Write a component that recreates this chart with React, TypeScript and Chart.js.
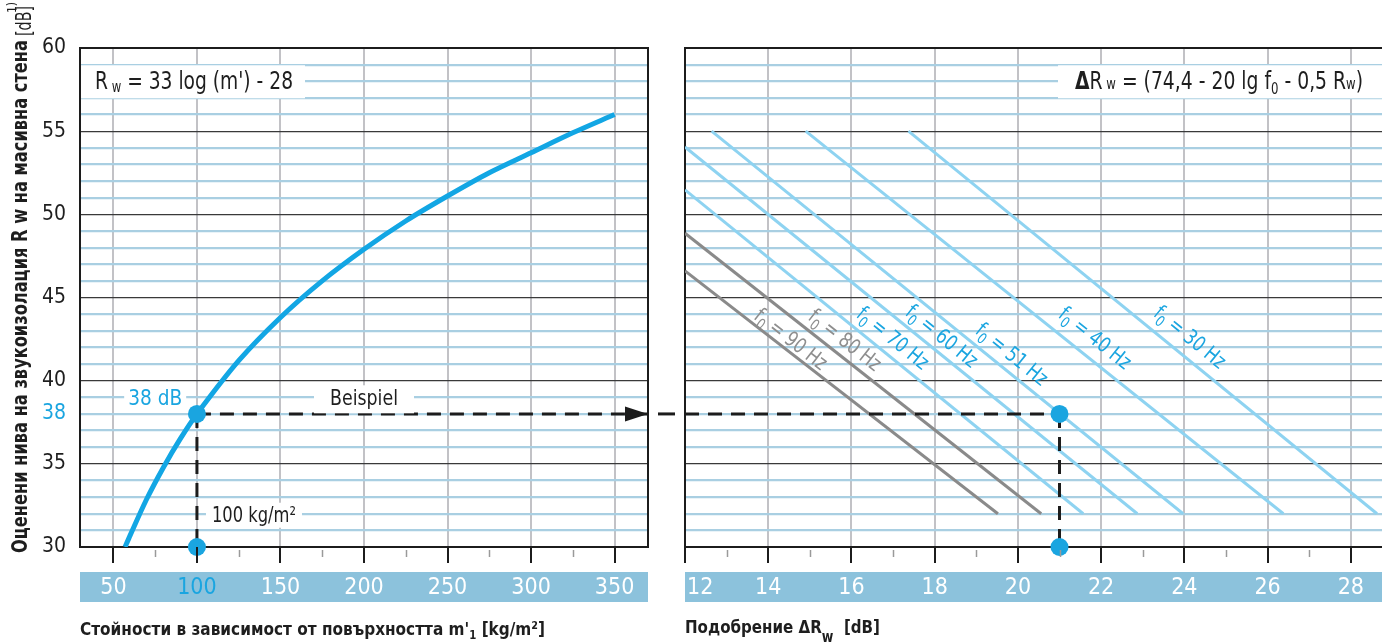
import { useEffect, useRef } from 'react';
import { Chart, registerables } from 'chart.js';

Chart.register(...registerables);

const FONT = "'Liberation Sans Narrow', 'Arial Narrow', 'DejaVu Sans Condensed', Roboto, sans-serif";

// ---------------- Data ----------------
// Left chart: Rw = 33 log(m') - 28
const massValues = [57, 60, 70, 80, 90, 100, 125, 150, 175, 200, 225, 250, 275, 300, 325, 350];
const rwValues = [30.0, 30.7, 32.9, 34.8, 36.5, 38.0, 41.2, 43.8, 46.0, 47.9, 49.6, 51.1, 52.5, 53.7, 54.9, 56.0];

// Tick labels
const massTickLabels = [50, 100, 150, 200, 250, 300, 350];
const deltaTickLabels = [12, 14, 16, 18, 20, 22, 24, 26, 28];
const rwTickLabels = [30, 35, 38, 40, 45, 50, 55, 60];

// Axis bounds
const massMin = 30;
const massMax = 370;
const deltaMin = 12;
const deltaMax = 28.75;
const rwMin = 30;
const rwMax = 60;

// Worked example
const exampleMass = 100;
const exampleRw = 38;
const exampleDelta = 21;

// Right chart: resonance frequency lines f0
const freqLabels = ['90', '80', '70', '60', '51', '40', '30'];
const freqStartDelta = [12, 12, 12, 12, 12.64, 14.9, 17.37];
const freqStartRw = [46.6, 48.86, 51.47, 54.05, 55, 55, 55];
const freqEndDelta = [19.52, 20.56, 21.57, 22.87, 23.97, 26.38, 28.63];
const freqEndRw = [32, 32, 32, 32, 32, 32, 32];
const freqLabelDelta = [14.55, 15.85, 17.0, 18.18, 19.86, 21.86, 24.14];
const freqLabelRw = [42.5, 42.45, 42.57, 42.69, 41.6, 42.57, 42.63];
const grayFreqs = ['90', '80'];

// ---------------- Styles ----------------
const CYAN = '#1aa5e0';
const CURVE = '#12a6e4';
const LIGHT_LINE = '#8ed3f1';
const GRAY_LINE = '#8a8a8a';
const GRAY_TEXT = '#8e8e8e';
const HGRID = '#a9cfe2';
const MAJOR_GRID = '#3a3a3a';
const VGRID = '#c2c2c6';
const AXIS = '#1c1c1c';
const BAND = '#8cc2dc';
const TEXT = '#1e1e1e';

type Seg = { t: string; size: number; bold?: boolean; dy?: number; color?: string };

function segFont(s: Seg) {
  return `${s.bold ? 'bold ' : ''}${s.size}px ${FONT}`;
}

function measureRich(ctx: CanvasRenderingContext2D, segs: Seg[]) {
  let w = 0;
  for (const s of segs) {
    ctx.font = segFont(s);
    w += ctx.measureText(s.t).width;
  }
  return w;
}

function drawRich(
  ctx: CanvasRenderingContext2D,
  x: number,
  y: number,
  segs: Seg[],
  opts: { align?: 'left' | 'center' | 'right'; width?: number; color: string; box?: { padL: number; padR: number; top: number; bottom: number } }
) {
  const natural = measureRich(ctx, segs);
  const sx = opts.width ? opts.width / natural : 1;
  const total = natural * sx;
  const align = opts.align || 'left';
  const start = align === 'center' ? x - total / 2 : align === 'right' ? x - total : x;
  if (opts.box) {
    ctx.save();
    ctx.fillStyle = '#ffffff';
    ctx.fillRect(start - opts.box.padL, y - opts.box.top, total + opts.box.padL + opts.box.padR, opts.box.top + opts.box.bottom);
    ctx.restore();
  }
  ctx.save();
  ctx.translate(start, y);
  ctx.scale(sx, 1);
  ctx.textAlign = 'left';
  ctx.textBaseline = 'alphabetic';
  let cx = 0;
  for (const s of segs) {
    ctx.font = segFont(s);
    ctx.fillStyle = s.color || opts.color;
    ctx.fillText(s.t, cx, s.dy || 0);
    cx += ctx.measureText(s.t).width;
  }
  ctx.restore();
  return { left: start, right: start + total };
}

function drawBand(chart: any) {
  const { ctx, chartArea } = chart;
  ctx.save();
  ctx.fillStyle = BAND;
  ctx.fillRect(chartArea.left, chartArea.bottom + 25, chartArea.right - chartArea.left, 30);
  ctx.restore();
}

function drawTickMarks(chart: any, majors: number[], minors: number[]) {
  const { ctx, chartArea } = chart;
  const xs = chart.scales.x;
  const b = chartArea.bottom;
  ctx.save();
  ctx.strokeStyle = AXIS;
  ctx.lineWidth = 2;
  for (const v of majors) {
    const px = Math.round(xs.getPixelForValue(v));
    ctx.beginPath();
    ctx.moveTo(px, b);
    ctx.lineTo(px, b + 16);
    ctx.stroke();
  }
  ctx.strokeStyle = '#9a9a9a';
  ctx.lineWidth = 1.5;
  for (const v of minors) {
    const px = Math.round(xs.getPixelForValue(v)) + 0.5;
    ctx.beginPath();
    ctx.moveTo(px, b + 3);
    ctx.lineTo(px, b + 10);
    ctx.stroke();
  }
  ctx.restore();
}

function midpoints(arr: number[]) {
  const out: number[] = [];
  for (let i = 0; i < arr.length - 1; i++) out.push((arr[i] + arr[i + 1]) / 2);
  return out;
}

// x tick labels sit in the blue band: padding 0 (so no extra side padding) and a tall line height
const BAND_FONT_SIZE = 23;
const BAND_LINE_HEIGHT = 3.56;
const bandTickFont = { family: FONT, size: BAND_FONT_SIZE, lineHeight: BAND_LINE_HEIGHT };

const fitX = (s: any) => {
  s.height = 97;
  s.paddingLeft = 0;
  s.paddingRight = 0;
};

const rwYScale = (withLabels: boolean) => ({
  type: 'linear',
  min: rwMin,
  max: rwMax,
  afterFit: (s: any) => {
    s.width = withLabels ? 80 : 35;
  },
  ticks: {
    display: withLabels,
    stepSize: 1,
    autoSkip: false,
    padding: 14,
    font: { family: FONT, size: 21 },
    color: (c: any) => (c.tick && c.tick.value === exampleRw ? CYAN : TEXT),
    callback: (v: any) => (rwTickLabels.includes(v) ? String(v) : ''),
  },
  grid: {
    drawTicks: false,
    color: (c: any) => (c.tick && c.tick.value % 5 === 0 ? MAJOR_GRID : HGRID),
    lineWidth: (c: any) => (c.tick && c.tick.value % 5 === 0 ? 1.2 : 2.2),
  },
  border: { display: true, color: AXIS, width: 2 },
});

const leftPlugin = {
  id: 'leftDecor',
  beforeDraw(chart: any) {
    drawBand(chart);
  },
  afterDraw(chart: any) {
    const { ctx, chartArea } = chart;
    const xs = chart.scales.x;
    const ys = chart.scales.y;
    // top and right frame
    ctx.save();
    ctx.strokeStyle = AXIS;
    ctx.lineWidth = 2;
    ctx.beginPath();
    ctx.moveTo(chartArea.left, chartArea.top);
    ctx.lineTo(chartArea.right, chartArea.top);
    ctx.lineTo(chartArea.right, chartArea.bottom);
    ctx.stroke();
    ctx.restore();

    drawTickMarks(chart, massTickLabels, midpoints(massTickLabels));

    // arrow head
    const ay = ys.getPixelForValue(exampleRw);
    ctx.save();
    ctx.fillStyle = AXIS;
    ctx.beginPath();
    ctx.moveTo(chartArea.right, ay);
    ctx.lineTo(chartArea.right - 23, ay - 7.5);
    ctx.lineTo(chartArea.right - 23, ay + 7.5);
    ctx.closePath();
    ctx.fill();
    ctx.restore();

    // formula
    const fy = ys.getPixelForValue(58) + 8;
    const segs: Seg[] = [
      { t: 'R', size: 24 },
      { t: ' w', size: 15, dy: 3 },
      { t: " = 33 log (m') - 28", size: 24 },
    ];
    ctx.save();
    ctx.fillStyle = '#fff';
    ctx.fillRect(chartArea.left + 1, fy - 24, 15 + 198 + 12 - 1, 33);
    ctx.restore();
    drawRich(ctx, chartArea.left + 15, fy, segs, { width: 198, color: TEXT });

    // Beispiel
    drawRich(ctx, xs.getPixelForValue(200), ys.getPixelForValue(39) + 8, [{ t: 'Beispiel', size: 22 }], {
      align: 'center',
      width: 68,
      color: TEXT,
      box: { padL: 16, padR: 16, top: 20, bottom: 8 },
    });
    // 38 dB
    drawRich(ctx, xs.getPixelForValue(75), ys.getPixelForValue(39) + 8, [{ t: '38 dB', size: 22 }], {
      align: 'center',
      width: 54,
      color: CYAN,
      box: { padL: 4, padR: 4, top: 18, bottom: 4 },
    });
    // 100 kg/m²
    drawRich(ctx, xs.getPixelForValue(109), ys.getPixelForValue(32) + 8, [{ t: '100 kg/m²', size: 22 }], {
      width: 84,
      color: TEXT,
      box: { padL: 6, padR: 6, top: 19, bottom: 6 },
    });

    // y-axis title
    ctx.save();
    ctx.translate(27, 553);
    ctx.rotate(-Math.PI / 2);
    drawRich(ctx, 0, 0, [{ t: 'Оценени нива на звукоизолация R w на масивна стена', size: 21, bold: true }], {
      width: 513,
      color: TEXT,
    });
    drawRich(ctx, 517, 4, [{ t: '[dB]', size: 21 }], { width: 30, color: TEXT });
    drawRich(ctx, 540, -11, [{ t: '1)', size: 12 }], { color: TEXT });
    ctx.restore();

    // x-axis title
    drawRich(
      ctx,
      chartArea.left,
      635,
      [
        { t: "Стойности в зависимост от повърхността m'", size: 18, bold: true },
        { t: '1', size: 12, bold: true, dy: 4 },
        { t: ' [kg/m²]', size: 18, bold: true },
      ],
      { width: 465, color: TEXT }
    );
  },
};

const rightPlugin = {
  id: 'rightDecor',
  beforeDraw(chart: any) {
    drawBand(chart);
  },
  afterDraw(chart: any) {
    const { ctx, chartArea } = chart;
    const xs = chart.scales.x;
    const ys = chart.scales.y;
    ctx.save();
    ctx.strokeStyle = AXIS;
    ctx.lineWidth = 2;
    ctx.beginPath();
    ctx.moveTo(chartArea.left, chartArea.top);
    ctx.lineTo(chartArea.right, chartArea.top);
    ctx.stroke();
    // dash crossing the gap between the two panels
    const gy = ys.getPixelForValue(exampleRw);
    ctx.lineWidth = 3;
    ctx.beginPath();
    ctx.moveTo(chartArea.left - 27, gy);
    ctx.lineTo(chartArea.left - 10, gy);
    ctx.stroke();
    ctx.restore();

    drawTickMarks(chart, deltaTickLabels, midpoints(deltaTickLabels));

    // first tick label sits inside the band, left-aligned against the axis start
    ctx.save();
    ctx.font = `${BAND_FONT_SIZE}px ${FONT}`;
    ctx.fillStyle = '#ffffff';
    ctx.textAlign = 'left';
    ctx.textBaseline = 'middle';
    ctx.fillText(String(deltaTickLabels[0]), chartArea.left + 2, chartArea.bottom + (BAND_FONT_SIZE * BAND_LINE_HEIGHT) / 2);
    ctx.restore();

    // formula
    const fy = ys.getPixelForValue(58) + 8;
    const segs: Seg[] = [
      { t: 'Δ', size: 24, bold: true },
      { t: 'R', size: 24 },
      { t: ' w', size: 15 },
      { t: ' = (74,4 - 20 lg f', size: 24 },
      { t: '0', size: 15, dy: 5 },
      { t: ' - 0,5 R', size: 24 },
      { t: 'w', size: 15 },
      { t: ')', size: 24 },
    ];
    const tw = 288;
    const left = chartArea.right - 19 - tw;
    ctx.save();
    ctx.fillStyle = '#fff';
    ctx.fillRect(left - 17, fy - 24, chartArea.right - left + 17, 33);
    ctx.restore();
    drawRich(ctx, left, fy, segs, { width: tw, color: TEXT });

    // frequency labels
    for (let i = 0; i < freqLabels.length; i++) {
      const x1 = xs.getPixelForValue(freqStartDelta[i]);
      const y1 = ys.getPixelForValue(freqStartRw[i]);
      const x2 = xs.getPixelForValue(freqEndDelta[i]);
      const y2 = ys.getPixelForValue(freqEndRw[i]);
      const ang = Math.atan2(y2 - y1, x2 - x1);
      const cx = xs.getPixelForValue(freqLabelDelta[i]);
      const cy = ys.getPixelForValue(freqLabelRw[i]);
      const col = grayFreqs.includes(freqLabels[i]) ? GRAY_TEXT : CYAN;
      ctx.save();
      ctx.translate(cx, cy);
      ctx.rotate(ang);
      drawRich(
        ctx,
        0,
        7,
        [
          { t: 'f', size: 21 },
          { t: '0', size: 15, dy: 5 },
          { t: ` = ${freqLabels[i]} Hz`, size: 21 },
        ],
        { align: 'center', width: 86, color: col }
      );
      ctx.restore();
    }

    // x-axis title
    drawRich(
      ctx,
      chartArea.left,
      633,
      [
        { t: 'Подобрение ΔR', size: 18, bold: true },
        { t: 'w', size: 15, bold: true, dy: 9 },
        { t: '  [dB]', size: 18, bold: true },
      ],
      { width: 195, color: TEXT }
    );
  },
};

function dashedSet(points: { x: number; y: number }[]) {
  return {
    data: points,
    showLine: true,
    borderColor: AXIS,
    borderWidth: 3,
    borderDash: [14, 9],
    pointRadius: 0,
    order: 1,
  };
}

function markerSet(points: { x: number; y: number }[]) {
  return {
    data: points,
    pointRadius: 9,
    pointBackgroundColor: CYAN,
    pointBorderWidth: 0,
    showLine: false,
    clip: false,
    order: 0,
  };
}

const commonOptions = (padRight: number) => ({
  responsive: false,
  animation: false,
  devicePixelRatio: 1,
  events: [],
  layout: { autoPadding: false, padding: { left: 0, top: 48, right: padRight, bottom: 0 } },
  plugins: { legend: { display: false }, tooltip: { enabled: false } },
});

function leftConfig(): any {
  return {
    type: 'scatter',
    data: {
      datasets: [
        markerSet([
          { x: exampleMass, y: exampleRw },
          { x: exampleMass, y: rwMin },
        ]),
        dashedSet([
          { x: exampleMass, y: exampleRw },
          { x: massMax, y: exampleRw },
        ]),
        dashedSet([
          { x: exampleMass, y: exampleRw },
          { x: exampleMass, y: rwMin },
        ]),
        {
          data: massValues.map((m, i) => ({ x: m, y: rwValues[i] })),
          showLine: true,
          borderColor: CURVE,
          borderWidth: 5,
          pointRadius: 0,
          tension: 0.3,
          order: 2,
        },
      ],
    },
    options: {
      ...commonOptions(12),
      scales: {
        x: {
          type: 'linear',
          min: massMin,
          max: massMax,
          afterFit: fitX,
          ticks: {
            stepSize: 25,
            includeBounds: false,
            autoSkip: false,
            maxRotation: 0,
            minRotation: 0,
            padding: 0,
            font: bandTickFont,
            color: (c: any) => (c.tick && c.tick.value === exampleMass ? CYAN : '#ffffff'),
            callback: (v: any) => (massTickLabels.includes(v) ? String(v) : ''),
          },
          grid: {
            drawTicks: false,
            color: (c: any) => (c.tick && massTickLabels.includes(c.tick.value) ? VGRID : 'rgba(0,0,0,0)'),
            lineWidth: 2,
          },
          border: { display: true, color: AXIS, width: 2 },
        },
        y: rwYScale(true),
      },
    },
    plugins: [leftPlugin],
  };
}

function rightConfig(): any {
  const lineSets = freqLabels.map((f, i) => ({
    data: [
      { x: freqStartDelta[i], y: freqStartRw[i] },
      { x: freqEndDelta[i], y: freqEndRw[i] },
    ],
    showLine: true,
    borderColor: grayFreqs.includes(f) ? GRAY_LINE : LIGHT_LINE,
    borderWidth: 3,
    pointRadius: 0,
    order: 3,
  }));
  return {
    type: 'scatter',
    data: {
      datasets: [
        markerSet([
          { x: exampleDelta, y: exampleRw },
          { x: exampleDelta, y: rwMin },
        ]),
        dashedSet([
          { x: deltaMin, y: exampleRw },
          { x: exampleDelta, y: exampleRw },
        ]),
        dashedSet([
          { x: exampleDelta, y: exampleRw },
          { x: exampleDelta, y: rwMin },
        ]),
        ...lineSets,
      ],
    },
    options: {
      ...commonOptions(0),
      scales: {
        x: {
          type: 'linear',
          min: deltaMin,
          max: deltaMax,
          afterFit: fitX,
          ticks: {
            stepSize: 1,
            includeBounds: false,
            autoSkip: false,
            maxRotation: 0,
            minRotation: 0,
            padding: 0,
            font: bandTickFont,
            color: '#ffffff',
            // the first label (12) is drawn left-aligned by the plugin
            callback: (v: any) => (deltaTickLabels.includes(v) && v !== deltaTickLabels[0] ? String(v) : ''),
          },
          grid: {
            drawTicks: false,
            color: (c: any) =>
              c.tick && deltaTickLabels.includes(c.tick.value) && c.tick.value !== deltaMin ? VGRID : 'rgba(0,0,0,0)',
            lineWidth: 2,
          },
          border: { display: true, color: AXIS, width: 2 },
        },
        y: rwYScale(false),
      },
    },
    plugins: [rightPlugin],
  };
}

export default function App() {
  const leftRef = useRef<HTMLCanvasElement>(null);
  const rightRef = useRef<HTMLCanvasElement>(null);
  useEffect(() => {
    const c1 = new Chart(leftRef.current as HTMLCanvasElement, leftConfig());
    const c2 = new Chart(rightRef.current as HTMLCanvasElement, rightConfig());
    return () => {
      c1.destroy();
      c2.destroy();
    };
  }, []);
  return (
    <div style={{ position: 'absolute', left: 0, top: 0, width: 1382, height: 644, overflow: 'hidden', background: '#fff' }}>
      <canvas ref={leftRef} width={660} height={644} style={{ position: 'absolute', left: 0, top: 0 }} />
      <canvas ref={rightRef} width={732} height={644} style={{ position: 'absolute', left: 650, top: 0 }} />
    </div>
  );
}
